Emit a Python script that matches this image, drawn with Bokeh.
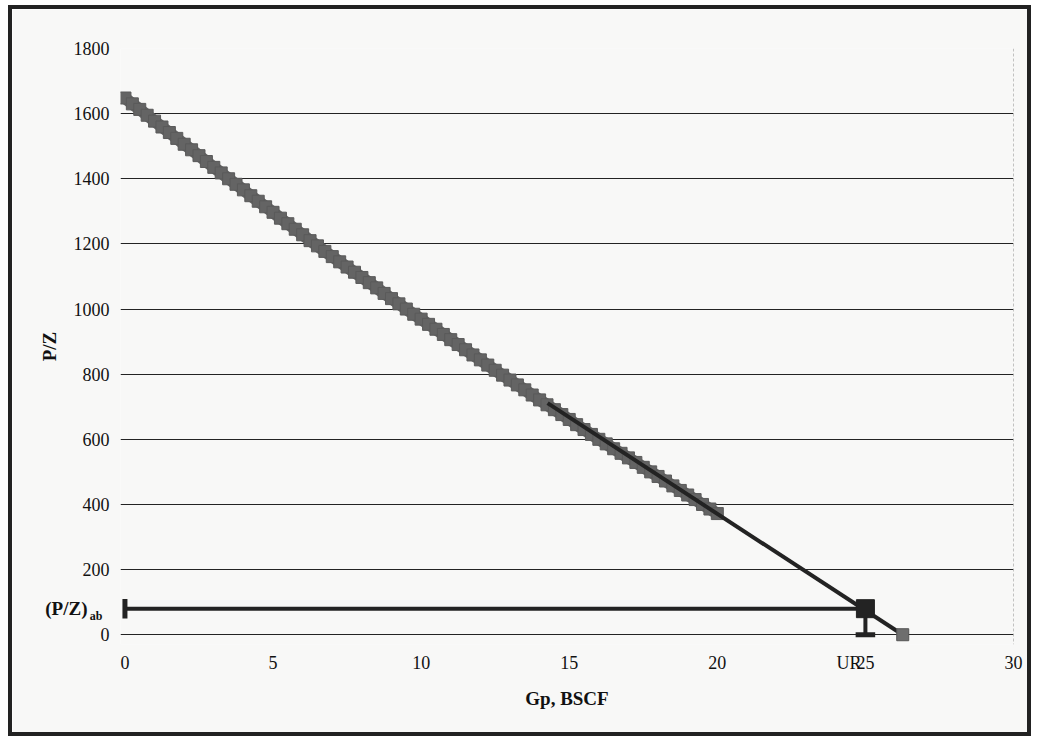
from bokeh.plotting import figure
from bokeh.models import Range1d, Span, FixedTicker, ColumnDataSource, LinearAxis
from bokeh.embed import file_html
from bokeh.resources import INLINE

# ---- data ----
gp_data = [0, 0.25, 0.5, 0.75, 1.0, 1.25, 1.5, 1.75, 2.0, 2.25, 2.5, 2.75, 3.0, 3.25, 3.5,
           3.75, 4.0, 4.25, 4.5, 4.75, 5.0, 5.25, 5.5, 5.75, 6.0, 6.25, 6.5, 6.75, 7.0, 7.25,
           7.5, 7.75, 8.0, 8.25, 8.5, 8.75, 9.0, 9.25, 9.5, 9.75, 10.0, 10.25, 10.5, 10.75,
           11.0, 11.25, 11.5, 11.75, 12.0, 12.25, 12.5, 12.75, 13.0, 13.25, 13.5, 13.75, 14.0,
           14.25, 14.5, 14.75, 15.0, 15.25, 15.5, 15.75, 16.0, 16.25, 16.5, 16.75, 17.0, 17.25,
           17.5, 17.75, 18.0, 18.25, 18.5, 18.75, 19.0, 19.25, 19.5, 19.75, 20.0]
pz_data = [1648, 1630, 1613, 1595, 1577, 1559, 1542, 1524, 1506, 1489, 1471, 1453, 1435, 1418, 1400,
           1383, 1366, 1348, 1331, 1314, 1297, 1279, 1262, 1245, 1228, 1210, 1194, 1177, 1161, 1145,
           1129, 1113, 1097, 1081, 1065, 1048, 1032, 1016, 1000, 984, 969, 953, 938, 922,
           906, 891, 875, 859, 844, 828, 812, 797, 782, 767, 752, 736, 721,
           706, 691, 676, 661, 645, 630, 615, 600, 586, 571, 557, 543, 529,
           514, 500, 486, 472, 457, 443, 429, 415, 400, 386, 372]

gp_extrap = [14.27, 26.26]
pz_extrap = [711, 0]

ur_gp = 25.0
pz_ab = 80

x_ticks = [0, 5, 10, 15, 20, 25, 30]
y_ticks = [0, 200, 400, 600, 800, 1000, 1200, 1400, 1600, 1800]
ur_label_gp = 24.45          # where the "UR" text sits on the Gp axis
ab_label_pz = 58             # subscript line of the (P/Z)ab label

SERIF = "Liberation Serif"
BG = "#f8f8f7"
INK = "#232323"
TXT = "#111111"

p = figure(
    output_backend="svg", toolbar_location=None,
    frame_width=893, frame_height=596,
    min_border_left=108, min_border_right=14, min_border_top=39, min_border_bottom=88,
    x_range=Range1d(-0.15, 30.0), y_range=Range1d(-30, 1800),
    background_fill_color=BG, border_fill_color=BG,
)
p.styles = {"border": "4px solid #222222", "margin-left": "8px", "margin-top": "5px"}
p.outline_line_color = None
p.xgrid.grid_line_color = None
p.ygrid.grid_line_color = INK
p.ygrid.grid_line_width = 1
p.ygrid.ticker = FixedTicker(ticks=y_ticks)


def plain(ax, size="18px", style="normal"):
    ax.axis_line_color = None
    ax.major_tick_line_color = None
    ax.minor_tick_line_color = None
    ax.major_label_text_font = SERIF
    ax.major_label_text_font_size = size
    ax.major_label_text_font_style = style
    ax.major_label_text_color = TXT
    ax.axis_label_text_font = SERIF
    ax.axis_label_text_font_style = "bold"
    ax.axis_label_text_font_size = "19px"
    ax.axis_label_text_color = TXT


plain(p.xaxis[0])
plain(p.yaxis[0])

p.xaxis.ticker = FixedTicker(ticks=x_ticks + [ur_label_gp])
p.xaxis.major_label_overrides = {ur_label_gp: "UR"}
p.yaxis.ticker = FixedTicker(ticks=y_ticks)
p.xaxis.axis_label = "Gp, BSCF"
p.yaxis.axis_label = "P/Z"
p.xaxis.major_label_standoff = 2
p.xaxis.axis_label_standoff = 12
p.yaxis.major_label_standoff = 5
p.yaxis.axis_label_standoff = 11

# extra left axes carrying the bold (P/Z)ab label
ax_pz = LinearAxis(ticker=FixedTicker(ticks=[pz_ab]), major_label_overrides={pz_ab: "(P/Z)"})
plain(ax_pz, "19px", "bold")
ax_pz.major_label_standoff = -58
p.add_layout(ax_pz, "left")
ax_ab = LinearAxis(ticker=FixedTicker(ticks=[ab_label_pz]), major_label_overrides={ab_label_pz: "ab"})
plain(ax_ab, "12px", "bold")
ax_ab.major_label_standoff = -73
p.add_layout(ax_ab, "left")

# right edge of plot area (dashed gray)
p.add_layout(Span(location=30, dimension="height", line_color="#8a8a8a",
                  line_dash="3 2", line_width=1))

# band of measured points
src = ColumnDataSource(dict(x=gp_data, y=pz_data))
p.line("x", "y", source=src, line_color="#646464", line_width=12)
p.scatter("x", "y", source=src, marker="square", size=12,
          fill_color="#646464", line_color="#5a5a5a", line_width=1)

# extrapolation line
p.line(gp_extrap, pz_extrap, line_color=INK, line_width=4)
p.scatter([gp_extrap[-1]], [pz_extrap[-1]], marker="square", size=12,
          fill_color="#6e6e6e", line_color="#555555")

# abandonment pressure bar and UR error bar
p.segment([0], [pz_ab], [ur_gp], [pz_ab], line_color=INK, line_width=4)
p.segment([0], [pz_ab - 30], [0], [pz_ab + 30], line_color=INK, line_width=5)
p.segment([ur_gp], [pz_ab], [ur_gp], [0], line_color=INK, line_width=4)
p.segment([ur_gp - 0.33], [0], [ur_gp + 0.33], [0], line_color=INK, line_width=5)
p.scatter([ur_gp], [pz_ab], marker="square", size=18, fill_color=INK, line_color=INK)

open("out.html", "w").write(file_html(p, INLINE))
